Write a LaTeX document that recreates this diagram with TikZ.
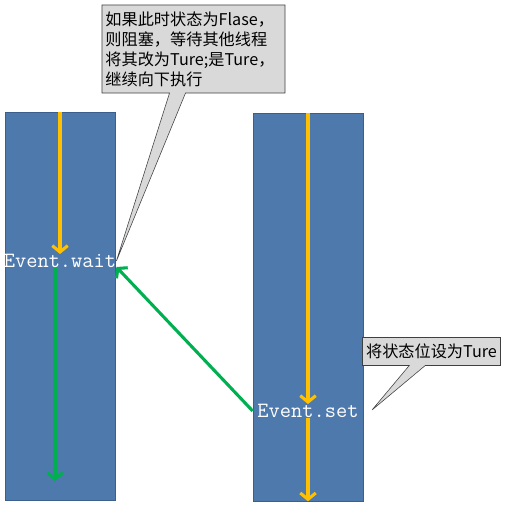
\documentclass[tikz,border=0pt]{standalone}
\usepackage{fontspec}
\newfontfamily\cjk{Noto Sans CJK SC}
\usetikzlibrary{shapes.callouts, arrows.meta, calc, positioning}

\definecolor{barblue}{HTML}{4E79AD}
\definecolor{baredge}{HTML}{3A5F8C}
\definecolor{flowyellow}{HTML}{FFC000}
\definecolor{flowgreen}{HTML}{00B050}
\definecolor{notegray}{HTML}{D9D9D9}

\begin{document}
\begin{tikzpicture}[
    x=0.025cm, y=-0.025cm,
    bar/.style={
        draw=baredge,
        fill=barblue,
        rectangle,
        minimum width=2.75cm,
        minimum height=9.7cm
    },
    event/.style={
        text=white,
        inner sep=0pt,
        font=\ttfamily\fontsize{15.5}{15.5}\selectfont
    },
    flow/.style={
        line width=2.2pt,
        -{Straight Barb[length=4.5pt, width=11pt]}
    },
    note/.style={
        rectangle callout,
        draw=black!75,
        fill=notegray,
        callout pointer width=0.4cm,
        align=left,
        inner sep=2pt,
        font=\cjk\fontsize{11.5}{14.2}\selectfont
    }
]
    \useasboundingbox (0,0) rectangle (506,505);

    % Threads
    \node [bar] (left) at (60,306.5) {};
    \node [bar] (right) at (308,307) {};

    % Event calls
    \node [event] (waittxt) at (60,261) {Event.wait};
    \node [event] (settxt) at (308,411) {Event.set};

    % Flow along the threads
    \coordinate (leftend) at (55,481);
    \draw [flow, flowyellow] (left.north) -- (waittxt.north);
    \draw [flow, flowgreen] ($(waittxt.south)+(-5,0)$) -- (leftend);
    \draw [flow, flowyellow] (right.north) -- (settxt.north);
    \draw [flow, flowyellow] (settxt.south) -- (right.south);

    % Set wakes up wait
    \draw [flow, flowgreen] (settxt.west -| right.west) -- ($(waittxt.east)+(0,6)$);

    % Notes
    \coordinate (settip) at (372,410);
    \node [note, minimum width=4.575cm, minimum height=2.2cm, text width=4.4cm,
        callout absolute pointer={(waittxt.east)}] (waitnote) at (193.5,49)
        {如果此时状态为Flase，\\则阻塞，等待其他线程\\将其改为Ture;是Ture，\\继续向下执行};
    \node [note, minimum width=3.45cm, minimum height=0.7cm,
        callout absolute pointer={(settip)}] (setnote) at (431.5,351.5)
        {将状态位设为Ture};

\end{tikzpicture}
\end{document}
